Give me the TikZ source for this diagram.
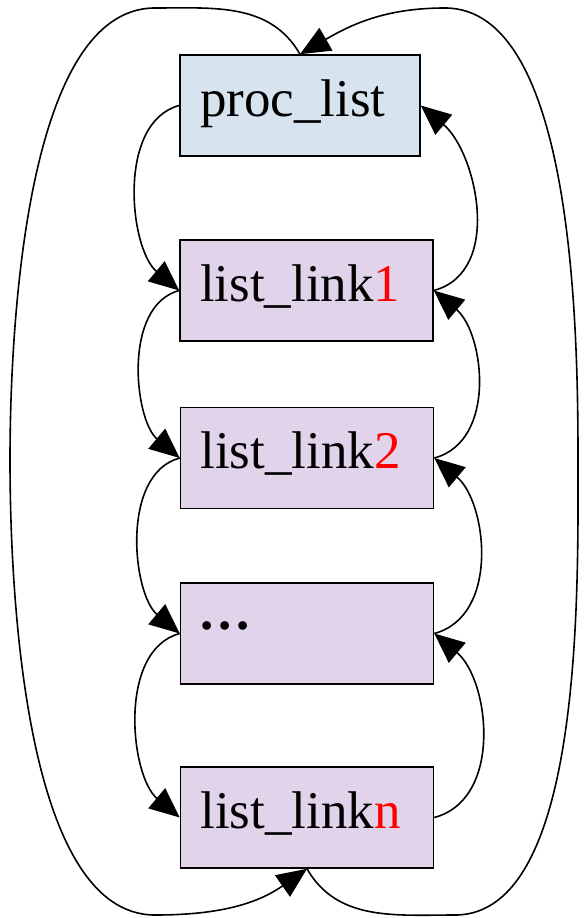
\documentclass[tikz,border=0pt]{standalone}
\usepackage{fontspec}
\setmainfont{Liberation Serif}
\usetikzlibrary{arrows.meta}
\definecolor{procblue}{HTML}{D7E3EF}
\definecolor{linkpurple}{HTML}{E1D3EA}

\begin{document}
\begin{tikzpicture}
    [x=1pt,y=-1pt,line width=1.6pt,
     box/.style={draw,inner xsep=20pt,inner ysep=0pt,text height=61pt,text depth=40pt,
       align=left,font=\fontsize{53}{60}\selectfont},
     head/.style={box,fill=procblue,text width=200pt},
     link/.style={box,fill=linkpurple,text width=213pt},
     tip/.style={-{Triangle[length=30pt,width=26pt]}}]
    \useasboundingbox (0,0) rectangle (588,918);
    \node[head] (pl) at (300,105.5) {proc\_list};
    \node[link] (l1) at (306.5,290.5) {list\_link\textcolor{red}{1}};
    \node[link] (l2) at (307,458) {list\_link\textcolor{red}{2}};
    \node[link] (ld) at (307,633.5) {\raisebox{15pt}{\bfseries .\hspace{5pt}.\hspace{5pt}.}};
    \node[link] (ln) at (307,817.5) {list\_link\textcolor{red}{n}};
    % next pointers on the left
    \draw[tip] (pl.west) to[out=195,in=140,looseness=.9] (l1.west);
    \draw[tip] (l1.west) to[out=195,in=140,looseness=.9] (l2.west);
    \draw[tip] (l2.west) to[out=195,in=140,looseness=.9] (ld.west);
    \draw[tip] (ld.west) to[out=195,in=140,looseness=.9] (ln.west);
    % prev pointers on the right
    \draw[tip] (l1.east) to[out=15,in=-40] (pl.east);
    \draw[tip] (l2.east) to[out=15,in=-40] (l1.east);
    \draw[tip] (ld.east) to[out=15,in=-40] (l2.east);
    \draw[tip] (ln.east) to[out=15,in=-40] (ld.east);
    % wrap-around links
    \coordinate (lt) at (155,8);
    \coordinate (lm) at (10,460);
    \coordinate (lb) at (155,915);
    \coordinate (rt) at (445,8);
    \coordinate (rm) at (578,460);
    \coordinate (rb) at (455,915);
    \draw[tip] (pl.north) to[out=120,in=0] (lt) to[out=180,in=90,looseness=.7] (lm)
      to[out=-90,in=180,looseness=.7] (lb) to[out=0,in=215] (ln.south);
    \draw[tip] (ln.south) to[out=-60,in=180] (rb) to[out=0,in=-90,looseness=.7] (rm)
      to[out=90,in=0,looseness=.7] (rt) to[out=180,in=30] (pl.north);
\end{tikzpicture}
\end{document}
